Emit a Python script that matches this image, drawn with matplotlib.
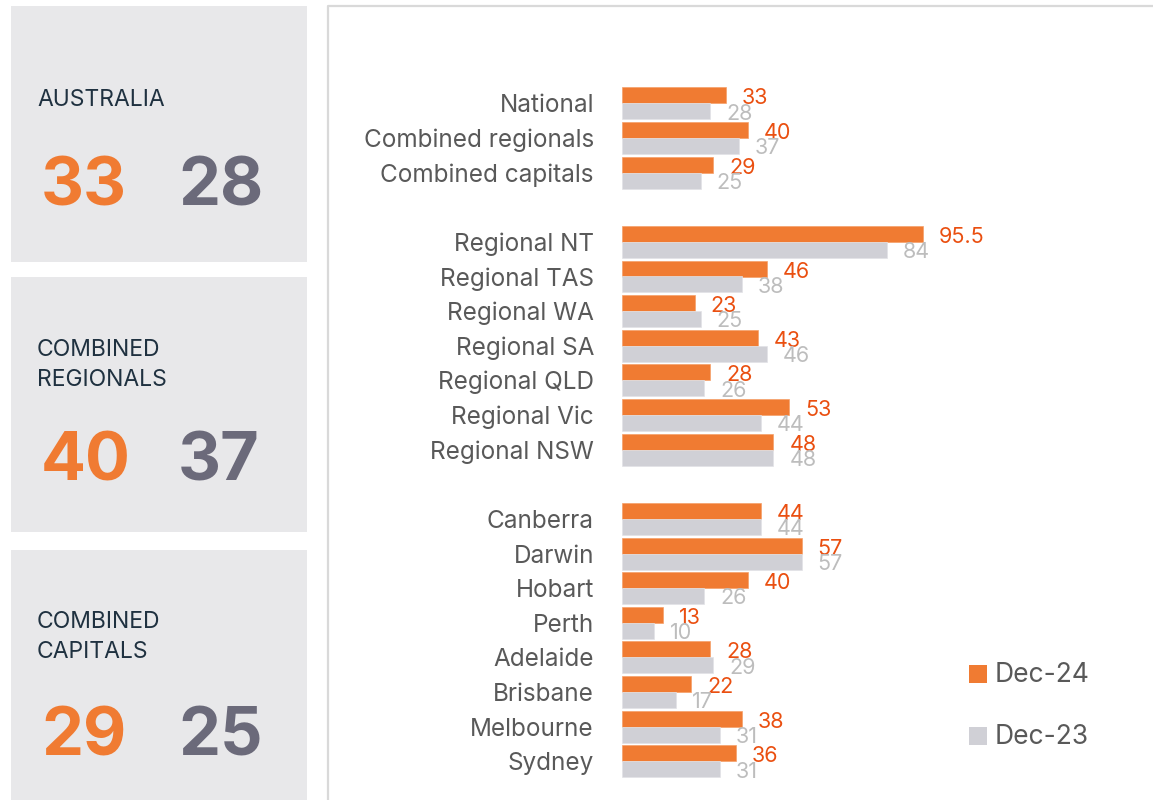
import matplotlib
matplotlib.use("Agg")
import matplotlib.pyplot as plt
from matplotlib.patches import Rectangle
from matplotlib.lines import Line2D

plt.rcParams["font.family"] = ["Inter", "DejaVu Sans"]

# Data
groups = [
    ["National", "Combined regionals", "Combined capitals"],
    ["Regional NT", "Regional TAS", "Regional WA", "Regional SA",
     "Regional QLD", "Regional Vic", "Regional NSW"],
    ["Canberra", "Darwin", "Hobart", "Perth", "Adelaide", "Brisbane",
     "Melbourne", "Sydney"],
]
dec24 = [33, 40, 29,
         95.5, 46, 23, 43, 28, 53, 48,
         44, 57, 40, 13, 28, 22, 38, 36]
dec23 = [28, 37, 25,
         84, 38, 25, 46, 26, 44, 48,
         44, 57, 26, 10, 29, 17, 31, 31]

panel_titles = ["AUSTRALIA", "COMBINED\nREGIONALS", "COMBINED\nCAPITALS"]
panel_dec24 = [33, 40, 29]
panel_dec23 = [28, 37, 25]
series_names = ["Dec-24", "Dec-23"]

ORANGE = "#f07b32"
ORANGE_TXT = "#ea4f10"
GREY_BAR = "#d0d0d6"
GREY_TXT = "#bdbdbd"
LABEL_TXT = "#595959"
BOX = "#e8e8ea"
NAVY = "#1f3140"
BIG_GREY = "#6b6a7a"

W, H = 1153, 800
fig = plt.figure(figsize=(W / 100, H / 100), dpi=100)


def fx(px):
    return px / W


def fy(py):
    return 1 - py / H


# row positions: one blank row between groups
labels, rows = [], []
r = 0
for g in groups:
    for name in g:
        labels.append(name)
        rows.append(r)
        r += 1
    r += 1

# left summary boxes
box_spans = [(6, 262), (277, 532), (550, 800)]
title_base = [106, 353, 625]
num_base = [205, 481, 755]
for (top, bot), title, tb, nb, a, b in zip(box_spans, panel_titles, title_base,
                                            num_base, panel_dec24, panel_dec23):
    fig.patches.append(Rectangle((fx(11), fy(bot)), fx(307) - fx(11),
                                 fy(top) - fy(bot), transform=fig.transFigure,
                                 facecolor=BOX, edgecolor="none", zorder=0))
    n_lines = title.count("\n")
    fig.text(fx(37), fy(tb + 33 * n_lines), title, fontsize=16.5, color=NAVY,
             ha="left", va="baseline", linespacing=1.45)
    fig.text(fx(41), fy(nb), f"{a}", fontsize=48, fontweight="bold",
             color=ORANGE, ha="left", va="baseline")
    fig.text(fx(178), fy(nb), f"{b}", fontsize=48, fontweight="bold",
             color=BIG_GREY, ha="left", va="baseline")

# right panel border
fig.lines.append(Line2D([fx(328), fx(328), fx(1153)], [fy(800), fy(6), fy(6)],
                        transform=fig.transFigure, color="#d9d9d9", lw=1.6))

# bar axes: row i centred at y = 103 + 34.63*i px
pitch = 34.63
ax = fig.add_axes([fx(622), 0, 100 * 3.153 / W, 1])
ax.set_xlim(0, 100)
ax.set_ylim((H - 103) / pitch, -103 / pitch)
ax.axis("off")

bh = 0.462
ax.barh([y - 0.22 for y in rows], dec24, height=bh, color=ORANGE,
        edgecolor="#f5a06a", linewidth=0.5)
ax.barh([y + 0.24 for y in rows], dec23, height=bh, color=GREY_BAR,
        edgecolor="#e2e2e6", linewidth=0.5)

off = 16 / 3.153
for y, name, a, b in zip(rows, labels, dec24, dec23):
    ax.text(-28 / 3.153, y + 0.27, name, ha="right", va="baseline",
            fontsize=17.5, color=LABEL_TXT, clip_on=False)
    ax.text(a + off, y + 0.04, f"{a:g}", ha="left", va="baseline",
            fontsize=15.5, color=ORANGE_TXT, clip_on=False)
    ax.text(b + off, y + 0.48, f"{b:g}", ha="left", va="baseline",
            fontsize=15.5, color=GREY_TXT, clip_on=False)

# legend
for top, name, col in zip([665, 727], series_names, [ORANGE, GREY_BAR]):
    fig.patches.append(Rectangle((fx(969), fy(top + 18)), fx(18), 18 / H,
                                 transform=fig.transFigure, facecolor=col,
                                 edgecolor="none"))
    fig.text(fx(995), fy(top + 17), name, fontsize=19, color=LABEL_TXT,
             ha="left", va="baseline")

fig.savefig("out.png", dpi=100)
